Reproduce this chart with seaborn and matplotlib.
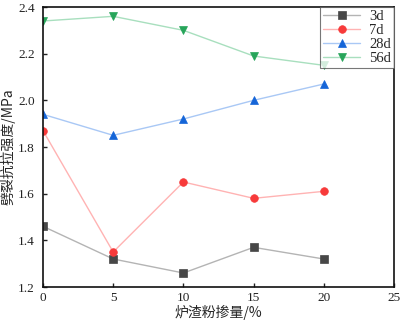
import numpy as np
import pandas as pd
import matplotlib
matplotlib.use("Agg")
import matplotlib.pyplot as plt
import seaborn as sns

# data
slag = [0, 5, 10, 15, 20]
s3d = [1.46, 1.32, 1.26, 1.37, 1.32]
s7d = [1.87, 1.35, 1.65, 1.58, 1.61]
s28d = [1.94, 1.85, 1.92, 2.00, 2.07]
s56d = [2.34, 2.36, 2.30, 2.19, 2.15]
ages = ["3d", "7d", "28d", "56d"]

df = pd.DataFrame({
    "x": slag * 4,
    "y": s3d + s7d + s28d + s56d,
    "age": [a for a in ages for _ in slag],
})

sns.set_style("ticks")
plt.rcParams['font.family'] = ['Liberation Serif', 'Noto Sans CJK SC']

line_cols = {"3d": "#b4b4b4", "7d": "#ffb3b3", "28d": "#a9c8f5", "56d": "#a8dfbe"}
mk_cols = {"3d": "#474747", "7d": "#f73a3a", "28d": "#1565d8", "56d": "#27a55a"}
markers = {"3d": "s", "7d": "o", "28d": "^", "56d": "v"}

fig = plt.figure(figsize=(4.01, 3.25), dpi=100)
ax = fig.add_axes([43 / 401, 1 - 287 / 325, 351 / 401, 280 / 325])

for a in ages:
    d = df[df.age == a]
    sns.lineplot(data=d, x="x", y="y", ax=ax, color=line_cols[a], lw=1,
                 marker=markers[a], markersize=5.5, markerfacecolor=mk_cols[a],
                 markeredgecolor=mk_cols[a], markeredgewidth=0.5, label=a)

ax.set_xlim(0, 25)
ax.set_ylim(1.2, 2.4)
ax.set_xticks([0, 5, 10, 15, 20, 25])
ax.set_yticks([1.2, 1.4, 1.6, 1.8, 2.0, 2.2, 2.4])
ax.set_yticklabels(["1.2", "1.4", "1.6", "1.8", "2.0", "2.2", "2.4"])
ax.tick_params(direction="in", length=3, width=1, labelsize=9.5, colors="#222222")
ax.tick_params(axis="y", pad=6)
for s in ax.spines.values():
    s.set_linewidth(1.2)
    s.set_color("#111111")
ax.set_xlabel("炉渣粉掺量/%", fontsize=10, labelpad=1,
              family=['Noto Sans CJK SC', 'Liberation Serif'])
ax.set_ylabel("劈裂抗拉强度/MPa", fontsize=10, labelpad=2,
              family=['Noto Sans CJK SC', 'Liberation Serif'])

leg = ax.legend(loc="upper right", fontsize=10.5, frameon=True, fancybox=False,
                borderpad=0.2, labelspacing=0.05, handlelength=2.6,
                borderaxespad=0.0, handletextpad=0.6, markerscale=1.0)
leg.get_frame().set_edgecolor("#555555")
leg.get_frame().set_linewidth(0.8)

fig.savefig("out.png", dpi=100)
